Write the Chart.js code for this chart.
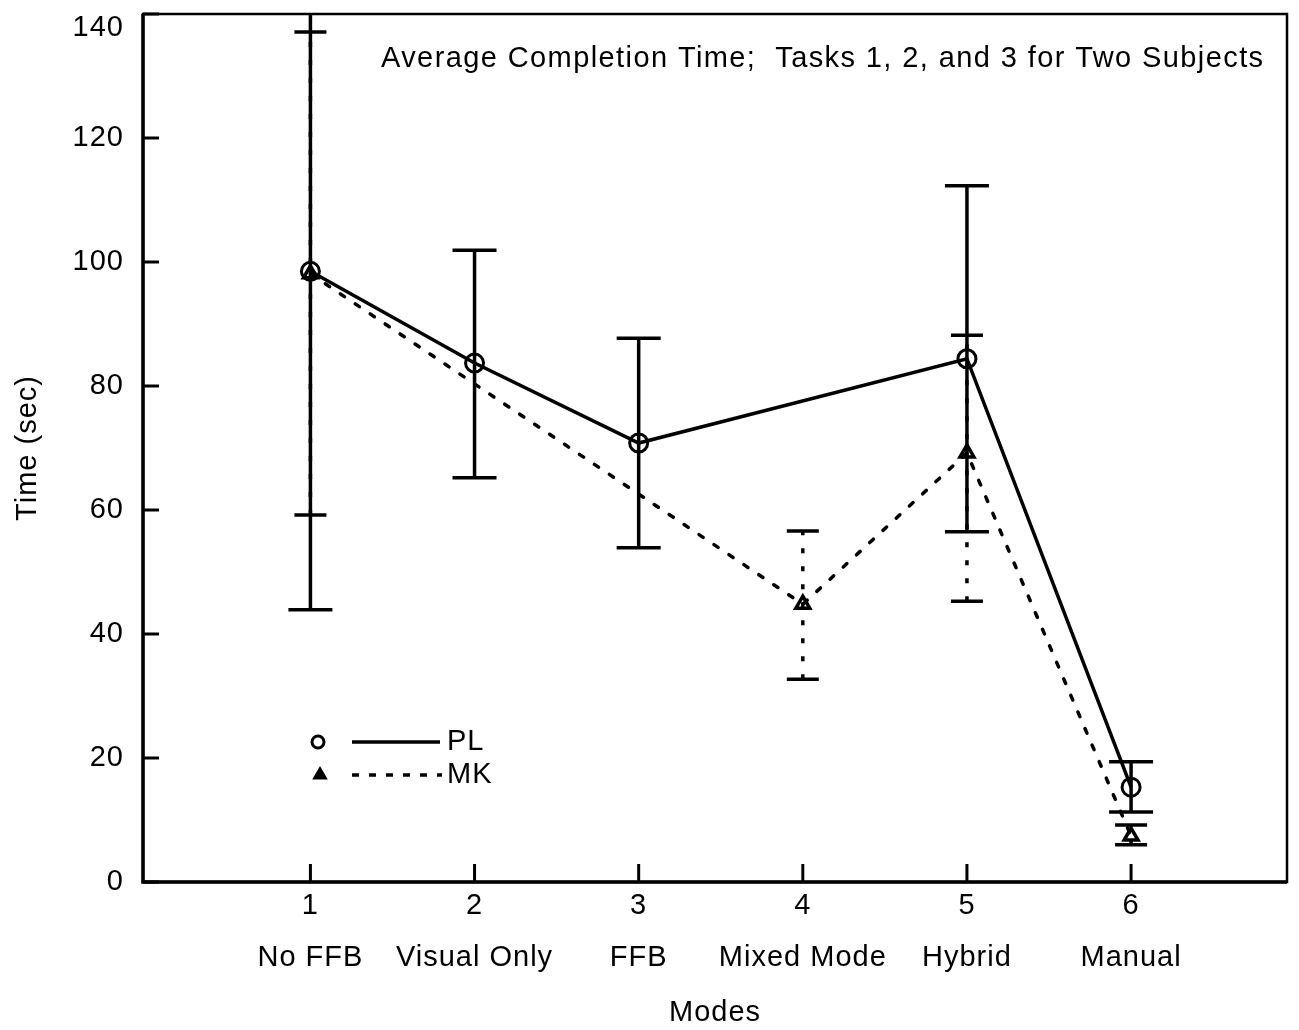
<!DOCTYPE html>
<html>
<head>
<meta charset="utf-8">
<script src="https://cdn.jsdelivr.net/npm/chart.js@4.4.1/dist/chart.umd.min.js"></script>
<style>
  html, body { margin: 0; padding: 0; background: #fff; }
  #wrap { width: 1299px; height: 1030px; }
</style>
</head>
<body>
<div id="wrap"><canvas id="grafico"></canvas></div>
<script>
// --- dados ---
const modos = [1, 2, 3, 4, 5, 6];
const nomesModos = ['No FFB', 'Visual Only', 'FFB', 'Mixed Mode', 'Hybrid', 'Manual'];
const ticksY = [0, 20, 40, 60, 80, 100, 120, 140];

// PL (círculos, linha cheia) - não tem ponto no modo 4
const plModos = [1, 2, 3, 5, 6];
const plTempo = [98.5, 83.7, 70.8, 84.4, 15.3];
const plMin   = [43.9, 65.2, 53.9, 56.5, 11.3];
const plMax   = [150, 101.9, 87.7, 112.3, 19.4];   // modo 1 passa do topo

// MK (triângulos, pontilhado)
const mkModos = [1, 4, 5, 6];
const mkTempo = [98.1, 44.8, 69.2, 7.4];
const mkMin   = [59.2, 32.7, 45.3, 6.0];
const mkMax   = [137.1, 56.6, 88.2, 9.2];

const TITULO = 'Average Completion Time;  Tasks 1, 2, and 3 for Two Subjects';

// --- estilo ---
const FONTE = '"Liberation Sans", Arial, Helvetica, sans-serif';
const TAM = 29;
const ESPACO = '1px';      // texto original é um pouco espaçado
const PONTILHADO = [5, 13];
const LARG = 3.5;
const Y_MAX = 140;

// espaçamento entre letras (o Chart.js não tem opção pra isso)
const espacoLetras = {
    id: 'espacoLetras',
    beforeUpdate(chart) { chart.ctx.letterSpacing = ESPACO; },
    beforeDraw(chart) { chart.ctx.letterSpacing = ESPACO; }
};

function barrasErro(chart, xs, mins, maxs, meia, pontilhado) {
    const { ctx, chartArea: a, scales: { x, y } } = chart;
    ctx.save();
    ctx.beginPath();
    ctx.rect(a.left, a.top, a.right - a.left, a.bottom - a.top);
    ctx.clip();
    ctx.strokeStyle = '#000';
    ctx.lineWidth = LARG;
    xs.forEach((m, i) => {
        const px = x.getPixelForValue(m);
        const y1 = y.getPixelForValue(mins[i]);
        const y2 = y.getPixelForValue(maxs[i]);
        ctx.setLineDash(pontilhado ? PONTILHADO : []);
        ctx.beginPath();
        ctx.moveTo(px, y1);
        ctx.lineTo(px, y2);
        ctx.stroke();
        ctx.setLineDash([]);
        [y1, y2].forEach(py => {
            if (py < a.top) return; // cortado no topo, sem traço
            ctx.beginPath();
            ctx.moveTo(px - meia, py);
            ctx.lineTo(px + meia, py);
            ctx.stroke();
        });
    });
    ctx.restore();
}

// barras de erro (MK antes, PL por cima)
const errorBars = {
    id: 'errorBars',
    beforeDatasetsDraw(chart) {
        barrasErro(chart, mkModos, mkMin, mkMax, 16, true);
        barrasErro(chart, plModos, plMin, plMax, 22, false);
    }
};

// moldura, marcas para dentro, título e legenda dentro do gráfico
const moldura = {
    id: 'moldura',
    afterDraw(chart) {
        const { ctx, chartArea: a, scales: { x, y } } = chart;
        ctx.save();
        ctx.strokeStyle = '#000';
        ctx.fillStyle = '#000';
        ctx.lineWidth = 2.5;
        ctx.strokeRect(a.left, a.top, a.right - a.left, a.bottom - a.top);
        ctx.lineWidth = LARG;
        ctx.beginPath();
        ctx.moveTo(a.left, a.top);
        ctx.lineTo(a.left, a.bottom);
        ctx.lineTo(a.right, a.bottom);
        ctx.stroke();

        ctx.lineWidth = 3;
        ticksY.forEach(v => {
            const py = y.getPixelForValue(v);
            ctx.beginPath(); ctx.moveTo(a.left, py); ctx.lineTo(a.left + 16, py); ctx.stroke();
        });
        modos.forEach(v => {
            const px = x.getPixelForValue(v);
            ctx.beginPath(); ctx.moveTo(px, a.bottom); ctx.lineTo(px, a.bottom - 18); ctx.stroke();
        });

        ctx.font = TAM + 'px ' + FONTE;
        ctx.textBaseline = 'middle';

        // rótulo do topo do eixo y fica um pouco abaixo da linha (como no original)
        ctx.letterSpacing = ESPACO;
        ctx.textAlign = 'right';
        ctx.fillText(String(Y_MAX), a.left - 19, y.getPixelForValue(Y_MAX) + 14);

        ctx.textAlign = 'left';
        ctx.letterSpacing = '1.4px';
        ctx.fillText(TITULO, a.left + 238, a.top + 45);
        ctx.letterSpacing = ESPACO;

        // legenda
        const lx = a.left + 175, ly1 = a.bottom - 140, ly2 = a.bottom - 107;
        ctx.fillStyle = '#fff';
        Chart.helpers.drawPoint(ctx, { pointStyle: 'circle', radius: 6, borderWidth: 2.5, rotation: 0 }, lx, ly1);
        ctx.fillStyle = '#000';
        Chart.helpers.drawPoint(ctx, { pointStyle: 'triangle', radius: 6, borderWidth: 2.5, rotation: 0 }, lx + 2, ly2);
        ctx.lineWidth = LARG;
        ctx.beginPath(); ctx.moveTo(lx + 34, ly1); ctx.lineTo(lx + 122, ly1); ctx.stroke();
        ctx.setLineDash([7, 10]);
        ctx.beginPath(); ctx.moveTo(lx + 34, ly2); ctx.lineTo(lx + 124, ly2); ctx.stroke();
        ctx.setLineDash([]);
        ctx.fillText('PL', lx + 129, ly1);
        ctx.fillText('MK', lx + 129, ly2);
        ctx.restore();
    }
};

const fonte = { family: FONTE, size: TAM };

new Chart(document.getElementById('grafico'), {
    type: 'scatter',
    data: {
        datasets: [{
            label: 'PL',
            data: plModos.map((m, i) => ({ x: m, y: plTempo[i] })),
            showLine: true,
            borderColor: '#000',
            borderWidth: LARG,
            pointStyle: 'circle',
            pointRadius: 9,
            pointBorderWidth: 3,
            pointBorderColor: '#000',
            pointBackgroundColor: 'rgba(0,0,0,0)'
        }, {
            label: 'MK',
            data: mkModos.map((m, i) => ({ x: m, y: mkTempo[i] })),
            showLine: true,
            borderColor: '#000',
            borderWidth: LARG,
            borderDash: PONTILHADO,
            borderCapStyle: 'round',
            pointStyle: 'triangle',
            pointRadius: 8,
            pointBorderWidth: 3.5,
            pointBorderColor: '#000',
            pointBackgroundColor: 'rgba(0,0,0,0)'
        }]
    },
    options: {
        responsive: true,
        maintainAspectRatio: false,
        animation: false,
        layout: { padding: { top: 14, right: 11, left: 0, bottom: 0 } },
        plugins: {
            legend: { display: false },
            tooltip: { enabled: false }
        },
        scales: {
            x: {
                type: 'linear',
                min: -0.02,
                max: 6.95,
                afterBuildTicks: s => { s.ticks = modos.map(v => ({ value: v })); },
                afterFit: s => { s.height = 148; s.paddingLeft = 0; s.paddingRight = 0; },
                grid: { display: false, drawTicks: false },
                border: { display: false },
                ticks: {
                    color: '#000',
                    font: { ...fonte, lineHeight: 1.8 },
                    padding: -2,
                    maxRotation: 0,
                    autoSkip: false,
                    callback: v => [String(v), nomesModos[v - 1]]
                },
                title: { display: true, text: 'Modes', color: '#000', font: fonte, padding: 0 }
            },
            y: {
                min: 0,
                max: Y_MAX,
                afterBuildTicks: s => { s.ticks = ticksY.map(v => ({ value: v })); },
                afterFit: s => { s.width = 143; s.paddingTop = 0; s.paddingBottom = 0; },
                grid: { display: false, drawTicks: false },
                border: { display: false },
                ticks: {
                    color: '#000',
                    font: fonte,
                    padding: 19,
                    callback: v => v === Y_MAX ? '' : String(v)  // o 140 vai no plugin
                },
                title: { display: true, text: 'Time (sec)', color: '#000', font: fonte, padding: 11 }
            }
        }
    },
    plugins: [espacoLetras, errorBars, moldura]
});
</script>
</body>
</html>
